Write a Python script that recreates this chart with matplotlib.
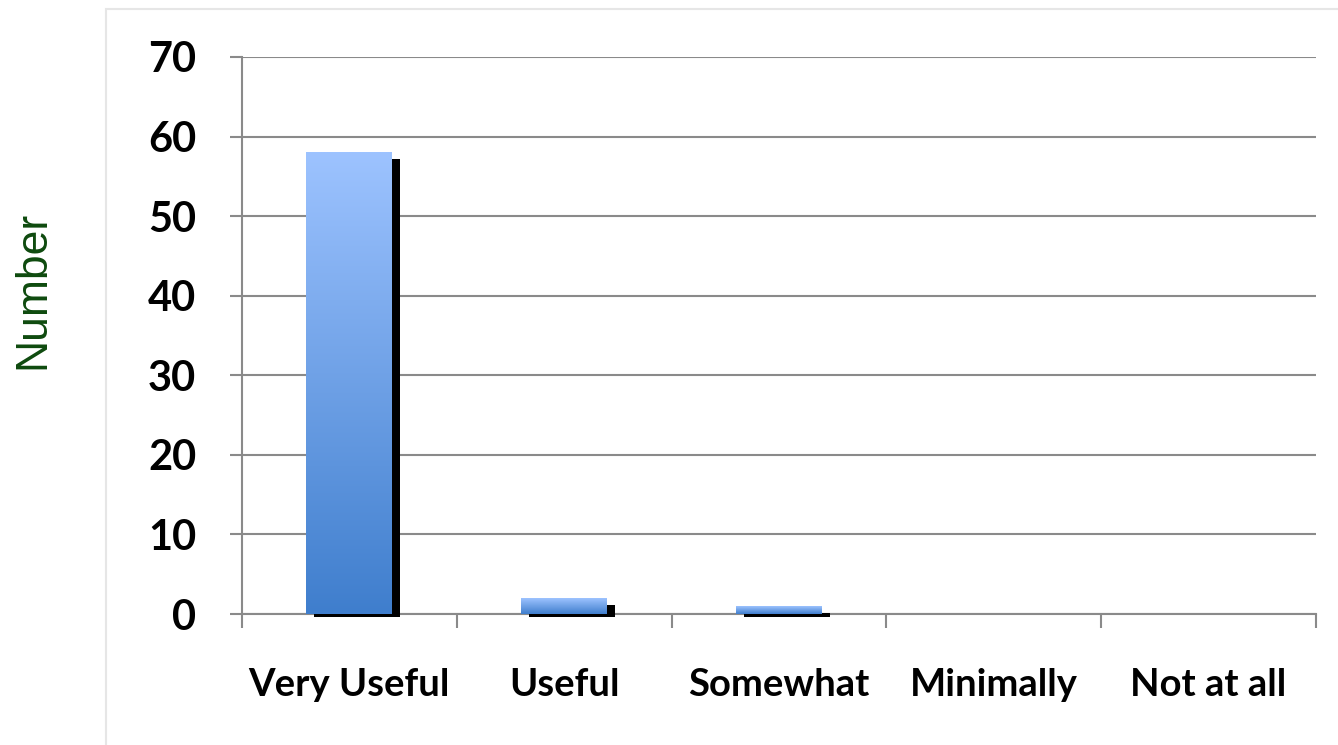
import matplotlib
matplotlib.use("Agg")
import matplotlib.pyplot as plt
import matplotlib.transforms as mtransforms
from matplotlib.patches import Rectangle
import numpy as np

# survey responses
categories = ["Very Useful", "Useful", "Somewhat", "Minimally", "Not at all"]
counts = [58, 2, 1, 0, 0]
y_ticks = [0, 10, 20, 30, 40, 50, 60, 70]

bar_top = "#9dc3ff"
bar_bottom = "#3f7ecd"
grid_gray = "#8a8a8a"


def gradient_bar(ax, x0, width, height):
	# vertical gradient, light at the top and darker towards the axis
	cmap = matplotlib.colors.LinearSegmentedColormap.from_list("bar", [bar_bottom, bar_top])
	grad = np.linspace(0, 1, 256).reshape(-1, 1)
	ax.imshow(grad, cmap=cmap, origin="lower", aspect="auto",
			extent=[x0, x0 + width, 0, height], zorder=3, interpolation="bilinear")


fig = plt.figure(figsize=(13.38, 7.45), dpi=100)
ax = fig.add_axes([242 / 1338, 1 - 614 / 745, (1316 - 242) / 1338, (614 - 57) / 745])

# faint outer frame
fig.patches.append(Rectangle((106 / 1338, -0.01), 1.0, 1 - 9 / 745 + 0.01,
							transform=fig.transFigure, fill=False,
							edgecolor="#e6e6e6", linewidth=1.5, zorder=0))

ax.set_xlim(0, len(categories))
ax.set_ylim(0, 70)

px_per_unit = ax.get_position().height * 745 / 70
bar_w = 0.4
for i, v in enumerate(counts):
	if v <= 0:
		continue
	x0 = i + 0.5 - bar_w / 2
	# drop shadow shifted right and down
	shadow_tr = mtransforms.offset_copy(ax.transData, fig=fig, x=8, y=-3, units="dots")
	ax.add_patch(Rectangle((x0, 0), bar_w, v - 4 / px_per_unit, facecolor="black",
						edgecolor="none", transform=shadow_tr, zorder=2, clip_on=False))
	gradient_bar(ax, x0, bar_w, v)

ax.set_xlim(0, len(categories))
ax.set_ylim(0, 70)

ax.set_yticks(y_ticks)
ax.yaxis.grid(True, color=grid_gray, linewidth=1.5, zorder=0)
ax.set_axisbelow(True)
for side in ["top", "right"]:
	ax.spines[side].set_visible(False)
for side in ["left", "bottom"]:
	ax.spines[side].set_color(grid_gray)
	ax.spines[side].set_linewidth(1.5)
	ax.spines[side].set_zorder(1)

ax.set_xticks(np.arange(len(categories) + 1))
ax.set_xticklabels([])
ax.set_xticks(np.arange(len(categories)) + 0.5, minor=True)
ax.set_xticklabels(categories, minor=True, fontsize=27.5, fontfamily="Lato", fontweight="bold")
ax.tick_params(axis="x", which="major", length=10, width=1.5, color=grid_gray)
ax.tick_params(axis="x", which="minor", length=0, pad=39)
ax.tick_params(axis="y", length=9, width=1.5, color=grid_gray, pad=24)
for lab in ax.get_yticklabels():
	lab.set_fontsize(30)
	lab.set_fontfamily("Lato")
	lab.set_fontweight("bold")

fig.text(33 / 1338, 1 - 290 / 745, "Number", rotation=90, ha="center", va="center",
		fontsize=32, fontfamily="Liberation Sans", color="#0e4a0e")

fig.savefig("out.png", dpi=100)
